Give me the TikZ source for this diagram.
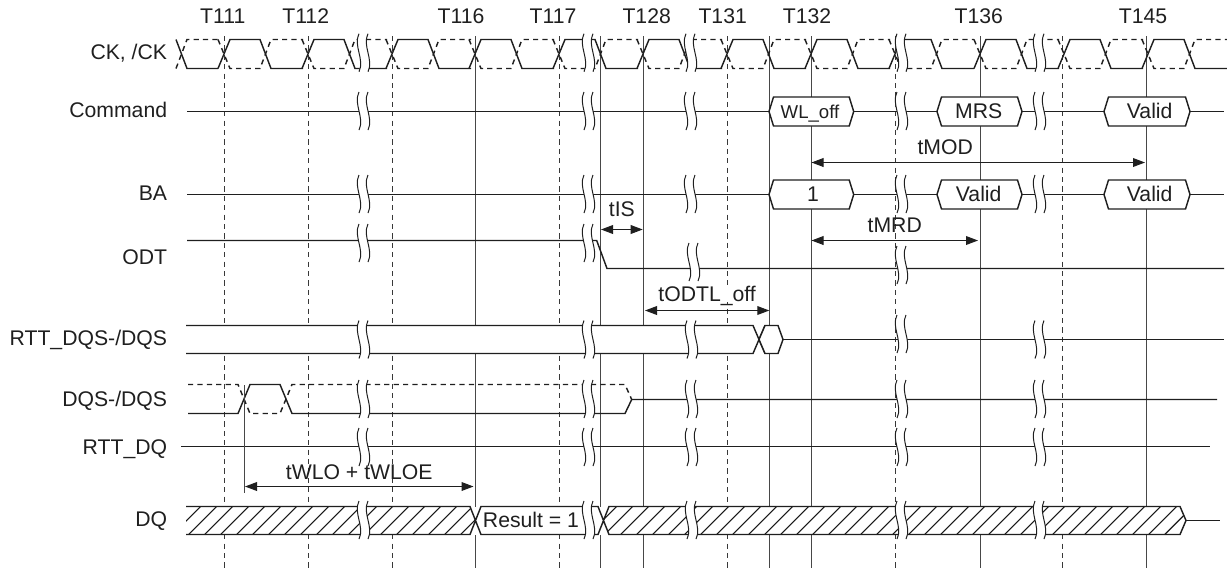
\documentclass[tikz,border=0pt]{standalone}
\usepackage{fontspec}
\setmainfont{Liberation Sans}
\usetikzlibrary{positioning, arrows.meta, calc}

\begin{document}
\begin{tikzpicture}[
    x=0.5pt, y=-0.5pt,
    >={Triangle[length=6pt, width=4.4pt]},
    sig/.style={line width=0.72pt, black!88},
    sig_dash/.style={sig, dash pattern=on 2.6pt off 2.1pt},
    grid_solid/.style={line width=0.6pt, black!72},
    grid_dash/.style={line width=0.55pt, black!78, dash pattern=on 2.6pt off 2.1pt},
    hatch/.style={line width=0.55pt, black!90},
    gap_line/.style={line width=0.5pt, black!88},
    dim_arrow/.style={<->, line width=0.5pt, black!88},
    text_font/.style={font=\fontsize{10.6}{12}\selectfont, text=black!88, inner sep=0pt, text height=7.6pt, text depth=0pt},
    sig_label/.style={text_font, anchor=east},
    time_label/.style={text_font},
    hex_label/.style={text_font}
]
\useasboundingbox (0,0) rectangle (1227,569);

% 1. Clock numbers and vertical grid
\foreach \tx/\tname in {222.7/T111, 305.7/T112, 461/T116, 553/T117, 646.7/T128, 722.7/T131, 807/T132, 978.7/T136, 1143/T145}
    \node[time_label] (\tname) at (\tx, 15.7) {\tname};

\foreach \gx in {224.5, 308.5, 392.5, 559.5, 727.5, 895.5, 1062.5}
    \draw[grid_dash] (\gx, 36) -- (\gx, 568);
\foreach \gx in {475.5, 600.5, 643.5, 769.5, 811.5, 980.5, 1146.5}
    \draw[grid_solid] (\gx, 36) -- (\gx, 568);

% 2. Signal names
\node[sig_label] (ck) at (167.5, 51.7) {CK, /CK};
\node[sig_label] (command) at (167.5, 110) {Command};
\node[sig_label] (ba) at (167.5, 193) {BA};
\node[sig_label] (odt) at (167.5, 257) {ODT};
\node[sig_label] (rttdqs) at (167.5, 337.5) {RTT\_DQS-/DQS};
\node[sig_label] (dqs) at (167.5, 399) {DQS-/DQS};
\node[sig_label] (rttdq) at (167.5, 446.5) {RTT\_DQ};
\node[sig_label] (dq) at (167.5, 519) {DQ};

% 3. CK, /CK
\draw[sig] (176, 39.5) -- (187, 68.5) -- (218, 68.5);
\draw[sig_dash] (176, 68.5) -- (187, 39.5) -- (218, 39.5);
\foreach \t in {224, 308, 392, 475, 559, 643, 727, 811, 895, 980, 1064, 1148} {
    \draw[sig] ({\t-6}, 68.5) -- ({\t+6}, 39.5) -- ({\t+36}, 39.5) -- ({\t+47}, 68.5) -- ({\t+79}, 68.5);
    \draw[sig_dash] ({\t-6}, 39.5) -- ({\t+6}, 68.5) -- ({\t+36}, 68.5) -- ({\t+47}, 39.5) -- ({\t+79}, 39.5);
}

% 4. Command and BA
\draw[sig] (187, 111.5) -- (769, 111.5);
\draw[sig] (853.7, 111.5) -- (937, 111.5);
\draw[sig] (1022, 111.5) -- (1104, 111.5);
\draw[sig] (1190, 111.5) -- (1223.7, 111.5);
\draw[sig] (187, 194.5) -- (769, 194.5);
\draw[sig] (853.7, 194.5) -- (937, 194.5);
\draw[sig] (1022, 194.5) -- (1104, 194.5);
\draw[sig] (1190, 194.5) -- (1223.7, 194.5);

\foreach \hl/\hr/\hy/\hx/\htxt [count=\i] in {
    769/853.7/111.5/810/{\fontsize{9.3}{11}\selectfont WL\_off},
    937/1022/111.5/978.7/MRS,
    1104/1190/111.5/1149.7/Valid,
    769/853.7/194.5/813/1,
    937/1022/194.5/978.7/Valid,
    1104/1190/194.5/1149.7/Valid} {
    \draw[sig, fill=white] (\hl, \hy) -- ({\hl+4.5}, {\hy-14.5}) -- ({\hr-4.5}, {\hy-14.5})
        -- (\hr, \hy) -- ({\hr-4.5}, {\hy+14.5}) -- ({\hl+4.5}, {\hy+14.5}) -- cycle;
    \node[hex_label] (hex\i) at (\hx, {\hy-0.5}) {\htxt};
}

% 5. ODT
\draw[sig] (187, 240.5) -- (596.7, 240.5) -- (607, 268.5) -- (1224, 268.5);

% 6. RTT_DQS-/DQS
\fill[white] (186, 325.5) rectangle (753, 353.5);
\draw[sig] (186, 325.5) -- (753, 325.5) -- (765, 353.5);
\draw[sig] (186, 353.5) -- (753, 353.5) -- (765, 325.5);
\draw[sig, fill=white] (765, 325.5) -- (778, 325.5) -- (783, 339.5) -- (778, 353.5) -- (765, 353.5) -- (759, 339.5) -- cycle;
\draw[sig] (783, 339.5) -- (1224, 339.5);

% 7. DQS-/DQS and RTT_DQ
\draw[sig] (188, 413.5) -- (238, 413.5) -- (250, 384.5) -- (280, 384.5) -- (292, 413.5) -- (625, 413.5) -- (631.7, 399.5) -- (1217, 399.5);
\draw[sig_dash] (188, 384.5) -- (238, 384.5) -- (250, 413.5) -- (280, 413.5) -- (292, 384.5) -- (625, 384.5) -- (631.7, 399.5);
\draw[sig] (181, 446.5) -- (1210, 446.5);

% 8. DQ
\fill[white] (186, 506.5) rectangle (1180, 534.5);
\fill[white] (1180, 506.5) -- (1186, 520.5) -- (1180, 534.5) -- cycle;
\begin{scope}
    \clip (186, 506.5) -- (470, 506.5) -- (475.5, 520.5) -- (470, 534.5) -- (186, 534.5) -- cycle
        (609, 506.5) -- (1180, 506.5) -- (1186, 520.5) -- (1180, 534.5) -- (609, 534.5) -- (603.5, 520.5) -- cycle;
    \foreach \x in {154, 170, ..., 1186}
        \draw[hatch] ({\x+2.7}, 534.5) -- ({\x+30.7}, 506.5);
\end{scope}
\draw[sig] (186, 506.5) -- (470, 506.5) -- (481, 534.5) -- (598, 534.5) -- (609, 506.5) -- (1180, 506.5) -- (1186, 520.5) -- (1180, 534.5) -- (609, 534.5) -- (598, 506.5) -- (481, 506.5) -- (470, 534.5) -- (186, 534.5);
\draw[sig] (1186, 520.5) -- (1220, 520.5);
\node[hex_label] (result) at (531, 520) {Result = 1};

% 9. Timing arrows
\draw[grid_solid] (244.5, 385) -- (244.5, 492.7);
\coordinate (tmod_l) at (811.5, 162.5);
\coordinate (tmod_r) at (1145, 162.5);
\coordinate (tmrd_l) at (811.5, 240.5);
\coordinate (tmrd_r) at (978, 240.5);
\coordinate (tis_l) at (601, 229.5);
\coordinate (tis_r) at (642.7, 229.5);
\coordinate (todtl_l) at (645, 310.5);
\coordinate (todtl_r) at (769.3, 310.5);
\coordinate (twlo_l) at (245, 486.5);
\coordinate (twlo_r) at (473.5, 486.5);
\draw[dim_arrow] (tmod_l) -- node[time_label, above=3.75pt, xshift=-16.5pt] (tmod) {tMOD} (tmod_r);
\draw[dim_arrow] (tmrd_l) -- node[time_label, above=4pt] (tmrd) {tMRD} (tmrd_r);
\draw[dim_arrow] (tis_l) -- node[time_label, above=6.5pt] (tis) {tIS} (tis_r);
\draw[dim_arrow] (todtl_l) -- node[time_label, above=3.9pt, fill=white, inner sep=0.5pt] (todtl) {tODTL\_off} (todtl_r);
\draw[dim_arrow] (twlo_l) -- node[time_label, above=3.25pt] (twlo) {tWLO + tWLOE} (twlo_r);

% 10. Breaks in the time axis
\foreach \bx/\by in {
    358/52.7, 358/111, 358/194, 358/243, 358/339.5, 358/399, 358/447, 358/520,
    583/52.7, 583/111, 583/194, 583/243, 583/339.5, 583/399, 583/447, 583/520,
    685/52.7, 685/111, 685/194, 688/262, 686/339.5, 686/399, 686/447, 686/520,
    896/52.7, 896/111, 896/194, 896/265, 896/334, 896/399, 896/447, 896/520,
    1034/52.7, 1034/111, 1034/194, 1034/339.5, 1034/399, 1034/447, 1034/520} {
    \fill[white] ({\bx+1}, {\by-18}) .. controls ({\bx-5}, {\by-7}) and ({\bx+7}, {\by+7}) .. ({\bx+1}, {\by+18})
        -- ({\bx+10}, {\by+18}) .. controls ({\bx+16}, {\by+7}) and ({\bx+4}, {\by-7}) .. ({\bx+10}, {\by-18}) -- cycle;
    \draw[gap_line] ({\bx+1}, {\by-19}) .. controls ({\bx-5}, {\by-7}) and ({\bx+7}, {\by+7}) .. ({\bx+1}, {\by+19});
    \draw[gap_line] ({\bx+10}, {\by-19}) .. controls ({\bx+4}, {\by-7}) and ({\bx+16}, {\by+7}) .. ({\bx+10}, {\by+19});
}
\end{tikzpicture}
\end{document}
